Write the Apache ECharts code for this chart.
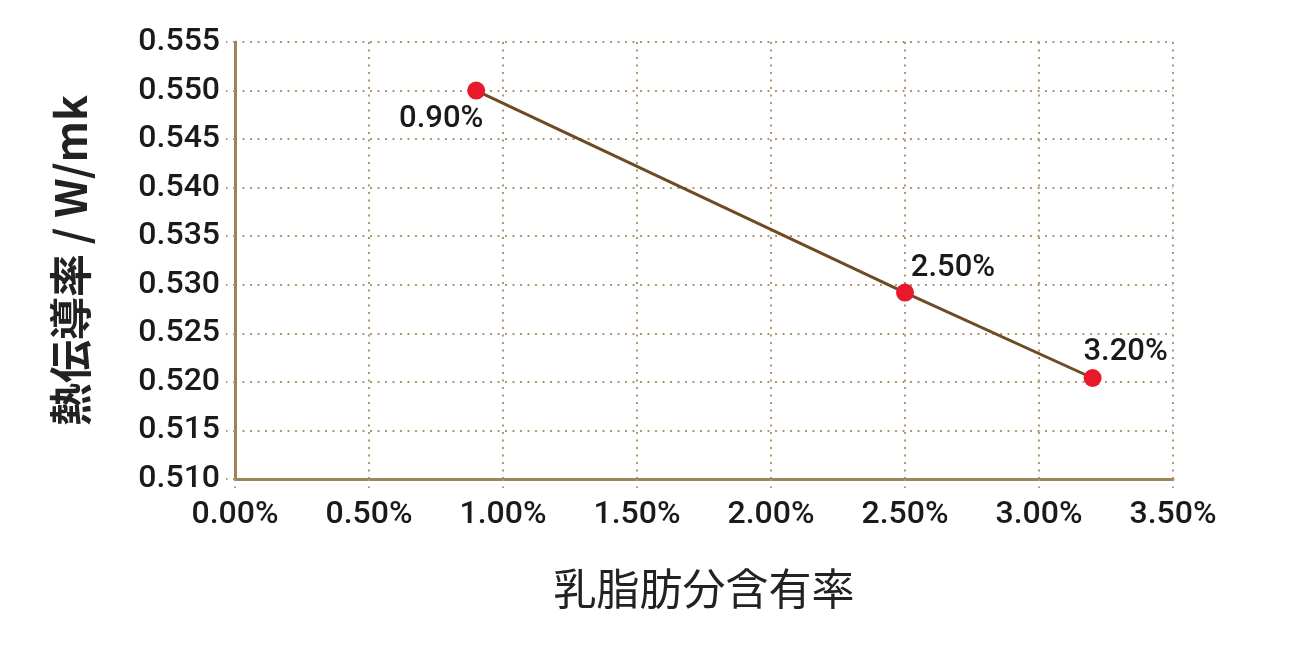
<!DOCTYPE html>
<html lang="ja">
<head>
<meta charset="UTF-8">
<title>熱伝導率</title>
<script src="https://cdn.jsdelivr.net/npm/echarts@6/dist/echarts.min.js"></script>
<style>
  html, body { margin: 0; padding: 0; background: #fff; }
  #chart { width: 1311px; height: 652px; }
</style>
</head>
<body>
<div id="chart"></div>
<script>
// 乳脂肪分含有率 (%) と 熱伝導率 (W/mk)
var fatRate = [0.9, 2.5, 3.2];
var conductivity = [0.550, 0.5292, 0.5204];
var pointLabels = ['0.90%', '2.50%', '3.20%'];

// ラベルの位置（点の中心からのずらし）
var labelOffsets = [[-35, 29], [48, -24], [33, -26]];

var numFont = 'Roboto, "Noto Sans", sans-serif';
var cjkFont = '"Noto Sans CJK JP", "Noto Sans", sans-serif';
var gridColor = '#ad9870';
var axisColor = '#9c8456';
var dots = [2, 5.5];

var chart = echarts.init(document.getElementById('chart'));

var seriesData = fatRate.map(function (x, i) {
    return {
        value: [x, conductivity[i]],
        label: { offset: labelOffsets[i], formatter: pointLabels[i] }
    };
});

var option = {
    animation: false,
    grid: { left: 235, right: 138, top: 42, bottom: 173, containLabel: false },
    xAxis: {
        type: 'value',
        min: 0,
        max: 3.5,
        interval: 0.5,
        name: '乳脂肪分含有率',
        nameLocation: 'middle',
        nameGap: 88,
        nameTextStyle: { fontFamily: cjkFont, fontSize: 43, color: '#222' },
        axisLine: { show: true, lineStyle: { color: axisColor, width: 3 } },
        axisTick: { show: true, length: 9, lineStyle: { color: gridColor, type: dots, width: 2 } },
        splitLine: { show: true, lineStyle: { color: gridColor, type: dots, width: 2 } },
        axisLabel: {
            margin: 20,
            fontFamily: numFont,
            fontWeight: 500,
            fontSize: 32,
            color: '#1a1a1a',
            formatter: function (v) { return v.toFixed(2) + '%'; }
        }
    },
    yAxis: {
        type: 'value',
        min: 0.510,
        max: 0.555,
        interval: 0.005,
        name: '熱伝導率 / W/mk',
        nameLocation: 'middle',
        nameGap: 143,
        nameTextStyle: { fontFamily: cjkFont, fontSize: 43, color: '#222', fontWeight: 'bold' },
        axisLine: { show: true, lineStyle: { color: axisColor, width: 3 } },
        axisTick: { show: true, length: 9, lineStyle: { color: gridColor, type: dots, width: 2 } },
        splitLine: { show: true, lineStyle: { color: gridColor, type: dots, width: 2 } },
        axisLabel: {
            margin: 15,
            fontFamily: numFont,
            fontWeight: 500,
            fontSize: 32,
            color: '#1a1a1a',
            formatter: function (v) { return v.toFixed(3); }
        }
    },
    series: [{
        type: 'line',
        data: seriesData,
        symbol: 'circle',
        symbolSize: 18,
        lineStyle: { color: '#6e4b22', width: 3 },
        itemStyle: { color: '#e8192b' },
        label: {
            show: true,
            position: 'inside',
            fontFamily: numFont,
            fontWeight: 500,
            fontSize: 31,
            color: '#1a1a1a'
        }
    }]
};

chart.setOption(option);
</script>
</body>
</html>
